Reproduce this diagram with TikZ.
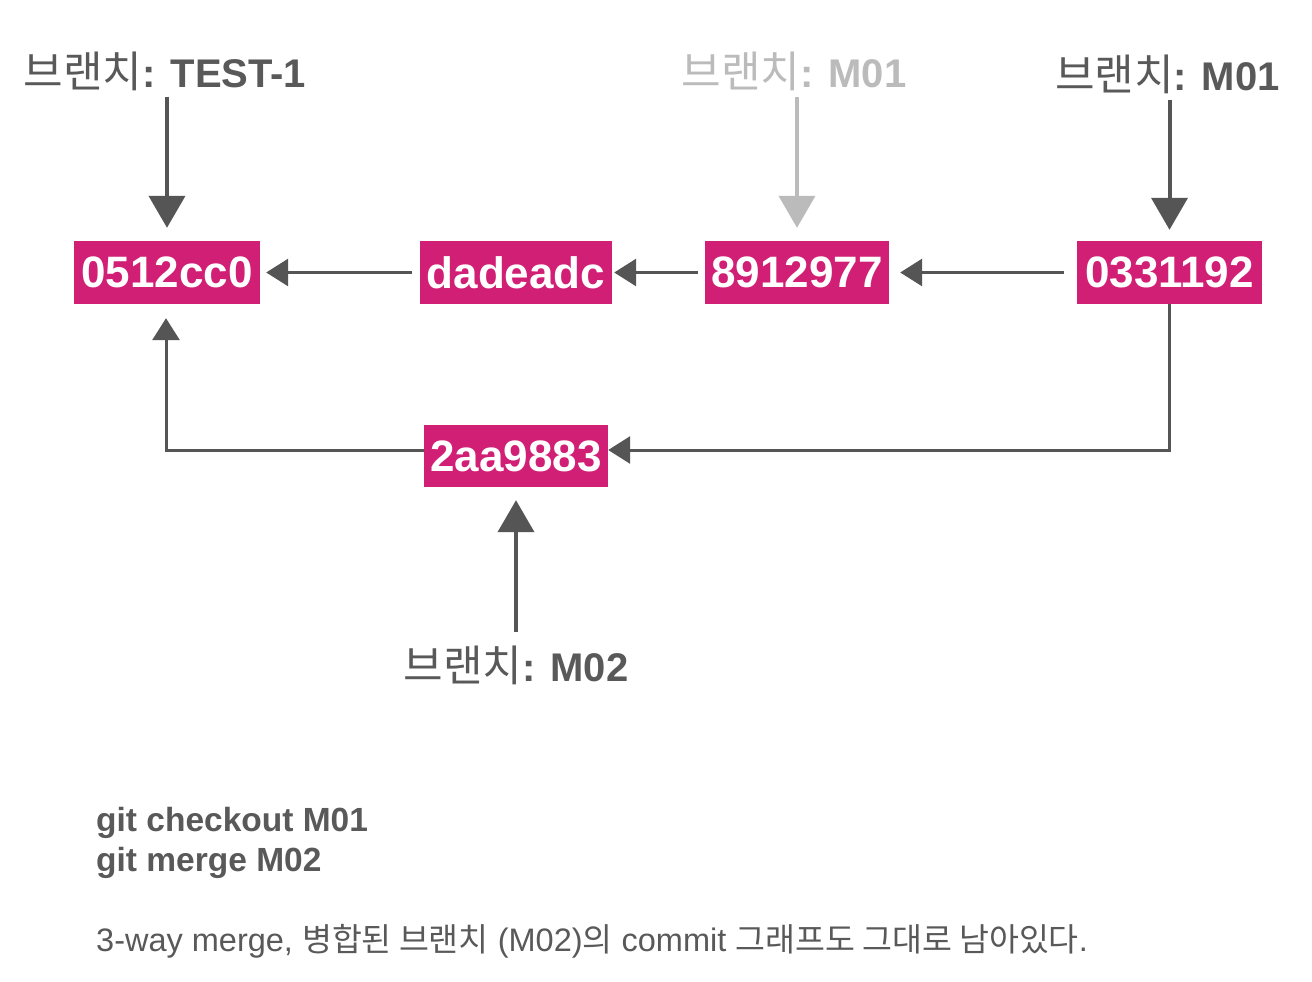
\documentclass[tikz,border=0pt]{standalone}
\usepackage{fontspec}
\setmainfont{Liberation Sans}
\newfontfamily\krfont{Noto Sans CJK KR}
\usetikzlibrary{arrows.meta}
\definecolor{commitc}{HTML}{D11F76}
\definecolor{txtc}{HTML}{595959}
\definecolor{lightc}{HTML}{BBBBBB}
\definecolor{arrc}{HTML}{555555}
\newcommand{\kr}[1]{{\krfont #1}}
\newcommand{\krl}[1]{{\krfont\mdseries\fontsize{43}{44}\selectfont #1}}
\tikzset{
  commit/.style={fill=commitc, text=white, font=\fontsize{44}{48}\selectfont\bfseries,
    minimum width=186pt, minimum height=63pt, inner sep=0pt},
  branchlbl/.style={text=txtc, font=\fontsize{40}{44}\selectfont\bfseries, inner sep=0pt},
  varr/.style={draw=arrc, line width=4pt, -{Triangle[length=32pt,width=36pt]}},
  harr/.style={draw=arrc, line width=3pt, -{Triangle[length=22pt,width=27pt]}},
}
\begin{document}
\begin{tikzpicture}[x=1pt,y=-1pt]
\useasboundingbox[fill=white] (0,0) rectangle (1312,982);

\node[commit] (c1) at (167,272.5) {0512cc0};
\node[commit, minimum width=192pt] (c2) at (516,272.5) {dadeadc};
\node[commit, minimum width=184pt] (c3) at (797,272.5) {8912977};
\node[commit, minimum width=185pt] (c4) at (1169.5,272.5) {0331192};
\node[commit, minimum width=184pt, minimum height=62pt] (m) at (516,456) {2aa9883};

\node[branchlbl] (l1) at (165,71) {\krl{브랜치}: TEST-1};
\node[branchlbl, text=lightc] (l2) at (794,71) {\krl{브랜치}: M01};
\node[branchlbl] (l3) at (1167.5,74) {\krl{브랜치}: M01};
\node[branchlbl] (l4) at (516,665) {\krl{브랜치}: M02};

\draw[varr, shorten <=6pt, shorten >=13pt] (l1.south -| c1.north) -- (c1.north);
\draw[varr, draw=lightc, shorten <=6pt, shorten >=13pt] (l2.south -| c3.north) -- (c3.north);
\draw[varr, shorten <=6pt, shorten >=11pt] (l3.south -| c4.north) -- (c4.north);
\draw[varr, shorten <=13pt, shorten >=13pt] (l4.north -| m.south) -- (m.south);

\draw[harr, shorten <=8pt, shorten >=6pt] (c2.west) -- (c1.east);
\draw[harr, shorten <=7pt, shorten >=2pt] (c3.west) -- (c2.east);
\draw[harr, shorten <=13pt, shorten >=11pt] (c4.west) -- (c3.east);

\coordinate (k1) at (1169.5,450);
\coordinate (k2) at (166,450);
\draw[harr, line join=miter] (c4.south) -- (k1) -- (m.east |- k1);
\draw[harr, line join=miter, shorten >=14pt] (m.west |- k2) -- (k2) -- (c1.south -| k2);

\node[anchor=north west, align=left, text=txtc, inner sep=0pt,
  font=\fontsize{33.5}{40}\selectfont\bfseries] (cmd) at (96,807) {git checkout M01\\git merge M02};
\node[anchor=north west, text=txtc, inner sep=0pt,
  font=\fontsize{32.5}{36}\selectfont] (note) at (96,924)
  {3-way merge, \kr{병합된 브랜치} (M02)\kr{의} commit \kr{그래프도 그대로 남아있다}.};
\end{tikzpicture}
\end{document}
